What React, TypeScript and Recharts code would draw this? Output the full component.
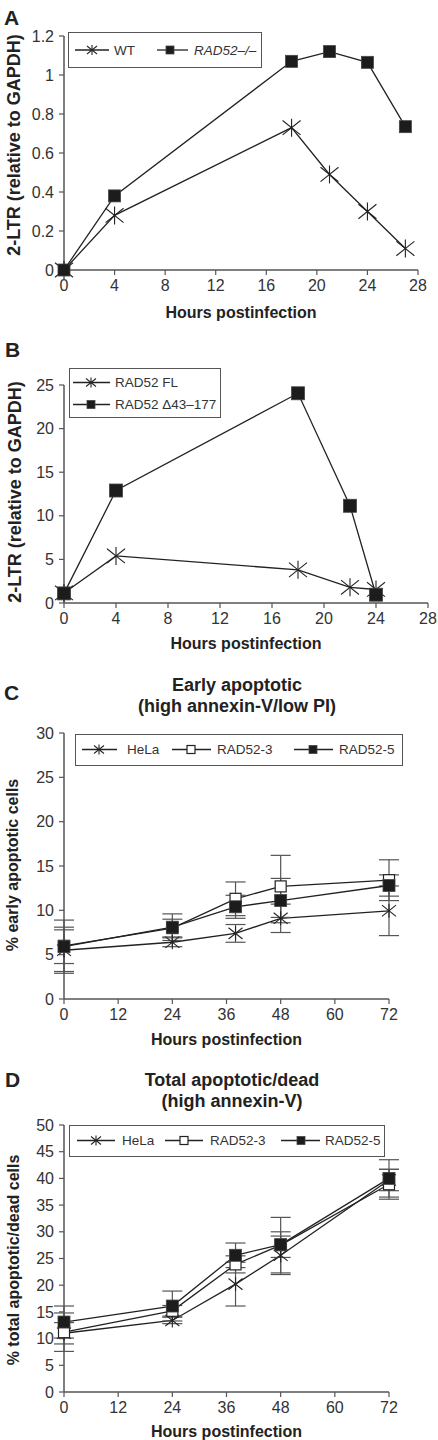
import React from 'react';
import { LineChart, Line, XAxis, YAxis, ErrorBar, Legend } from 'recharts';

const FONT = '"Liberation Sans", Arial, Helvetica, sans-serif';
const AXIS = '#555';
const INK = '#222';
const TICK = '#333';

// ---------- Panel A ----------
const hoursA = [0, 4, 18, 21, 24, 27];
const wtA = [0, 0.28, 0.73, 0.49, 0.3, 0.11];
const rad52A = [0, 0.38, 1.07, 1.12, 1.065, 0.735];
const xTicksA = [0, 4, 8, 12, 16, 20, 24, 28];
const yTicksA = [0, 0.2, 0.4, 0.6, 0.8, 1, 1.2];

// ---------- Panel B ----------
const hoursB = [0, 4, 18, 22, 24];
const flB = [1.15, 5.4, 3.8, 1.8, 1.55];
const delB = [1.1, 12.9, 24.05, 11.15, 0.95];
const xTicksB = [0, 4, 8, 12, 16, 20, 24, 28];
const yTicksB = [0, 5, 10, 15, 20, 25];

// ---------- Panel C ----------
const hoursCD = [0, 24, 38, 48, 72];
const helaC = [5.5, 6.4, 7.4, 9.1, 9.95];
const helaCErr = [2.6, 0.5, 1.0, 1.6, 2.8];
const rad3C = [6.0, 8.0, 11.3, 12.7, 13.4];
const rad3CErr = [2.9, 1.0, 1.9, 3.5, 2.3];
const rad5C = [5.9, 8.1, 10.4, 11.1, 12.8];
const rad5CErr = [1.9, 1.5, 1.3, 2.5, 1.2];
const xTicksCD = [0, 12, 24, 36, 48, 60, 72];
const yTicksC = [0, 5, 10, 15, 20, 25, 30];

// ---------- Panel D ----------
const helaD = [11.0, 13.4, 20.2, 25.6, 39.7];
const helaDErr = [2.0, 0.6, 4.1, 3.6, 2.0];
const rad3D = [11.2, 15.2, 23.9, 27.5, 38.9];
const rad3DErr = [3.6, 1.0, 1.6, 5.2, 2.8];
const rad5D = [13.1, 16.1, 25.6, 27.6, 40.0];
const rad5DErr = [3.0, 2.8, 2.3, 2.4, 3.5];
const yTicksD = [0, 5, 10, 15, 20, 25, 30, 35, 40, 45, 50];

const dataA = hoursA.map((h, i) => ({ h, wt: wtA[i], rad52: rad52A[i] }));
const dataB = hoursB.map((h, i) => ({ h, fl: flB[i], del: delB[i] }));
const dataC = hoursCD.map((h, i) => ({
  h,
  hela: helaC[i], helaErr: helaCErr[i],
  rad3: rad3C[i], rad3Err: rad3CErr[i],
  rad5: rad5C[i], rad5Err: rad5CErr[i],
}));
const dataD = hoursCD.map((h, i) => ({
  h,
  hela: helaD[i], helaErr: helaDErr[i],
  rad3: rad3D[i], rad3Err: rad3DErr[i],
  rad5: rad5D[i], rad5Err: rad5DErr[i],
}));

type Mk = 'star' | 'filled' | 'open';

function drawMarker(kind: Mk, cx: number, cy: number, s: number, key?: string | number) {
  if (kind === 'star') {
    const r = s / 2;
    const d = r * 0.8;
    return (
      <g key={key} stroke={INK} strokeWidth={1.1} fill="none">
        <line x1={cx} y1={cy - r} x2={cx} y2={cy + r} />
        <line x1={cx - r} y1={cy - d} x2={cx + r} y2={cy + d} />
        <line x1={cx - r} y1={cy + d} x2={cx + r} y2={cy - d} />
      </g>
    );
  }
  if (kind === 'filled') {
    return (
      <rect key={key} x={cx - s / 2} y={cy - s / 2} width={s} height={s} fill="#1c1c1c" stroke="#444" strokeWidth={0.8} />
    );
  }
  return (
    <rect key={key} x={cx - s / 2} y={cy - s / 2} width={s} height={s} fill="#fff" stroke={INK} strokeWidth={1.2} />
  );
}

const dotFn = (kind: Mk, s: number) => (p: any) => {
  if (p == null || p.cx == null || p.cy == null) return <g key={`e-${kind}-${p?.index}`} />;
  return drawMarker(kind, p.cx, p.cy, s, `${kind}-${p.index}`);
};

type LegendItem = { label: string; x1: number; x2: number; mx: number; tx: number; y: number; marker: Mk; italic?: boolean };

function LegendBox({ w, h, items }: { w: number; h: number; items: LegendItem[] }) {
  return (
    <div style={{ width: w, height: h, boxSizing: 'border-box', border: `1.5px solid ${AXIS}`, background: '#fff' }}>
      <svg width={w - 3} height={h - 3} style={{ display: 'block', overflow: 'visible' }}>
        {items.map((it, i) => (
          <g key={i}>
            <line x1={it.x1} x2={it.x2} y1={it.y} y2={it.y} stroke={INK} strokeWidth={1.3} />
            {drawMarker(it.marker, it.mx, it.y, it.marker === 'star' ? 10 : 8)}
            <text
              x={it.tx}
              y={it.y}
              dominantBaseline="central"
              fontSize={13.5}
              fill={TICK}
              fontFamily={FONT}
              fontStyle={it.italic ? 'italic' : 'normal'}
            >
              {it.label}
            </text>
          </g>
        ))}
      </svg>
    </div>
  );
}

const legendA: LegendItem[] = [
  { label: 'WT', x1: 6, x2: 40, mx: 23, tx: 45, y: 17, marker: 'star' },
  { label: 'RAD52\u2013/\u2013', x1: 88, x2: 119, mx: 101, tx: 125, y: 17, marker: 'filled', italic: true },
];
const legendB: LegendItem[] = [
  { label: 'RAD52 FL', x1: 3, x2: 40, mx: 21, tx: 45, y: 13.5, marker: 'star' },
  { label: 'RAD52 \u039443\u2013177', x1: 3, x2: 40, mx: 21, tx: 45, y: 35.5, marker: 'filled' },
];
const legendC: LegendItem[] = [
  { label: 'HeLa', x1: 6, x2: 41, mx: 23, tx: 51, y: 14.5, marker: 'star' },
  { label: 'RAD52-3', x1: 96, x2: 135, mx: 115, tx: 141, y: 14.5, marker: 'open' },
  { label: 'RAD52-5', x1: 218, x2: 257, mx: 237, tx: 263, y: 14.5, marker: 'filled' },
];
const legendD: LegendItem[] = [
  { label: 'HeLa', x1: 7, x2: 45, mx: 26, tx: 52, y: 14.5, marker: 'star' },
  { label: 'RAD52-3', x1: 95, x2: 133, mx: 114, tx: 140, y: 14.5, marker: 'open' },
  { label: 'RAD52-5', x1: 211, x2: 250, mx: 231, tx: 255, y: 14.5, marker: 'filled' },
];

const tickStyle = { fill: TICK, fontSize: 16, fontFamily: FONT };
const axisLine = { stroke: AXIS, strokeWidth: 1.5 };
const tickLine = { stroke: AXIS, strokeWidth: 1.2 };

const xTitle = (offset: number) => ({
  value: 'Hours postinfection',
  position: 'insideBottom' as const,
  offset,
  fontSize: 16,
  fontWeight: 700,
  fill: INK,
  fontFamily: FONT,
});

const yTitle = (text: string, x: number, y: number, fs: number) => ({
  content: () => (
    <text
      x={x}
      y={y}
      transform={`rotate(-90 ${x} ${y})`}
      textAnchor="middle"
      dominantBaseline="central"
      fontSize={fs}
      fontWeight={700}
      fill={INK}
      fontFamily={FONT}
    >
      {text}
    </text>
  ),
});

const errProps = { width: 10, stroke: AXIS, strokeWidth: 1.2, direction: 'y' as const, isAnimationActive: false };

export default function App() {
  return (
    <div style={{ position: 'absolute', left: 0, top: 0, width: 438, height: 1440, background: '#fff', fontFamily: FONT }}>
      <svg width={438} height={1440} style={{ position: 'absolute', left: 0, top: 0 }}>
        <g fontFamily={FONT} fontWeight={700} fill={INK}>
          <text x={4} y={25} fontSize={21}>A</text>
          <text x={5} y={357} fontSize={21}>B</text>
          <text x={4} y={700} fontSize={21}>C</text>
          <text x={5} y={1087} fontSize={21}>D</text>
          <text x={237} y={691} fontSize={18} textAnchor="middle">Early apoptotic</text>
          <text x={237} y={712} fontSize={18} textAnchor="middle">(high annexin-V/low PI)</text>
          <text x={232} y={1086} fontSize={18} textAnchor="middle">Total apoptotic/dead</text>
          <text x={232} y={1107} fontSize={18} textAnchor="middle">(high annexin-V)</text>
        </g>
      </svg>

      {/* Panel A */}
      <div style={{ position: 'absolute', left: 0, top: 0 }}>
        <LineChart width={438} height={325} data={dataA} margin={{ top: 36, right: 20, bottom: 0, left: 0 }}>
          <XAxis
            dataKey="h" type="number" domain={[0, 28]} ticks={xTicksA} interval={0}
            height={55} tickSize={5} tickMargin={5}
            axisLine={axisLine} tickLine={tickLine} tick={tickStyle}
            label={xTitle(7)}
          />
          <YAxis
            type="number" domain={[0, 1.2]} ticks={yTicksA} interval={0}
            width={64} tickSize={5} tickMargin={5}
            axisLine={axisLine} tickLine={tickLine} tick={tickStyle}
            label={yTitle('2-LTR (relative to GAPDH)', 14, 145, 18)}
          />
          <Legend
            layout="horizontal" verticalAlign="middle" align="center"
            wrapperStyle={{ left: 68, top: 32, width: 194, height: 36 }}
            content={() => <LegendBox w={194} h={36} items={legendA} />}
          />
          <Line dataKey="wt" stroke={INK} strokeWidth={1.3} dot={dotFn('star', 18)} activeDot={false} isAnimationActive={false} />
          <Line dataKey="rad52" stroke={INK} strokeWidth={1.3} dot={dotFn('filled', 12)} activeDot={false} isAnimationActive={false} />
        </LineChart>
      </div>

      {/* Panel B */}
      <div style={{ position: 'absolute', left: 0, top: 330 }}>
        <LineChart width={438} height={325} data={dataB} margin={{ top: 55, right: 10, bottom: 0, left: 0 }}>
          <XAxis
            dataKey="h" type="number" domain={[0, 28]} ticks={xTicksB} interval={0}
            height={52} tickSize={5} tickMargin={5}
            axisLine={axisLine} tickLine={tickLine} tick={tickStyle}
            label={xTitle(6)}
          />
          <YAxis
            type="number" domain={[0, 25]} ticks={yTicksB} interval={0}
            width={64} tickSize={5} tickMargin={5}
            axisLine={axisLine} tickLine={tickLine} tick={tickStyle}
            label={yTitle('2-LTR (relative to GAPDH)', 15, 162, 18)}
          />
          <Legend
            layout="horizontal" verticalAlign="middle" align="center"
            wrapperStyle={{ left: 69, top: 38, width: 152, height: 50 }}
            content={() => <LegendBox w={152} h={50} items={legendB} />}
          />
          <Line dataKey="fl" stroke={INK} strokeWidth={1.3} dot={dotFn('star', 18)} activeDot={false} isAnimationActive={false} />
          <Line dataKey="del" stroke={INK} strokeWidth={1.3} dot={dotFn('filled', 13)} activeDot={false} isAnimationActive={false} />
        </LineChart>
      </div>

      {/* Panel C */}
      <div style={{ position: 'absolute', left: 0, top: 670 }}>
        <LineChart width={438} height={385} data={dataC} margin={{ top: 63, right: 49, bottom: 0, left: 0 }}>
          <XAxis
            dataKey="h" type="number" domain={[0, 72]} ticks={xTicksCD} interval={0}
            height={56} tickSize={5} tickMargin={5}
            axisLine={axisLine} tickLine={tickLine} tick={tickStyle}
            label={xTitle(10)}
          />
          <YAxis
            type="number" domain={[0, 30]} ticks={yTicksC} interval={0}
            width={64} tickSize={5} tickMargin={5}
            axisLine={axisLine} tickLine={tickLine} tick={tickStyle}
            label={yTitle('% early apoptotic cells', 12, 195, 16)}
          />
          <Legend
            layout="horizontal" verticalAlign="middle" align="center"
            wrapperStyle={{ left: 75, top: 64, width: 328, height: 32 }}
            content={() => <LegendBox w={328} h={32} items={legendC} />}
          />
          <Line dataKey="hela" stroke={INK} strokeWidth={1.3} dot={dotFn('star', 14)} activeDot={false} isAnimationActive={false}>
            <ErrorBar dataKey="helaErr" {...errProps} />
          </Line>
          <Line dataKey="rad3" stroke={INK} strokeWidth={1.3} dot={dotFn('open', 11)} activeDot={false} isAnimationActive={false}>
            <ErrorBar dataKey="rad3Err" {...errProps} />
          </Line>
          <Line dataKey="rad5" stroke={INK} strokeWidth={1.3} dot={dotFn('filled', 12)} activeDot={false} isAnimationActive={false}>
            <ErrorBar dataKey="rad5Err" {...errProps} />
          </Line>
        </LineChart>
      </div>

      {/* Panel D */}
      <div style={{ position: 'absolute', left: 0, top: 1060 }}>
        <LineChart width={438} height={380} data={dataD} margin={{ top: 65, right: 49, bottom: 0, left: 0 }}>
          <XAxis
            dataKey="h" type="number" domain={[0, 72]} ticks={xTicksCD} interval={0}
            height={48} tickSize={5} tickMargin={5}
            axisLine={axisLine} tickLine={tickLine} tick={tickStyle}
            label={xTitle(3)}
          />
          <YAxis
            type="number" domain={[0, 50]} ticks={yTicksD} interval={0}
            width={64} tickSize={5} tickMargin={5}
            axisLine={axisLine} tickLine={tickLine} tick={tickStyle}
            label={yTitle('% total apoptotic/dead cells', 13, 200, 16)}
          />
          <Legend
            layout="horizontal" verticalAlign="middle" align="center"
            wrapperStyle={{ left: 69, top: 65, width: 316, height: 32 }}
            content={() => <LegendBox w={316} h={32} items={legendD} />}
          />
          <Line dataKey="hela" stroke={INK} strokeWidth={1.3} dot={dotFn('star', 14)} activeDot={false} isAnimationActive={false}>
            <ErrorBar dataKey="helaErr" {...errProps} />
          </Line>
          <Line dataKey="rad3" stroke={INK} strokeWidth={1.3} dot={dotFn('open', 11)} activeDot={false} isAnimationActive={false}>
            <ErrorBar dataKey="rad3Err" {...errProps} />
          </Line>
          <Line dataKey="rad5" stroke={INK} strokeWidth={1.3} dot={dotFn('filled', 12)} activeDot={false} isAnimationActive={false}>
            <ErrorBar dataKey="rad5Err" {...errProps} />
          </Line>
        </LineChart>
      </div>
    </div>
  );
}
